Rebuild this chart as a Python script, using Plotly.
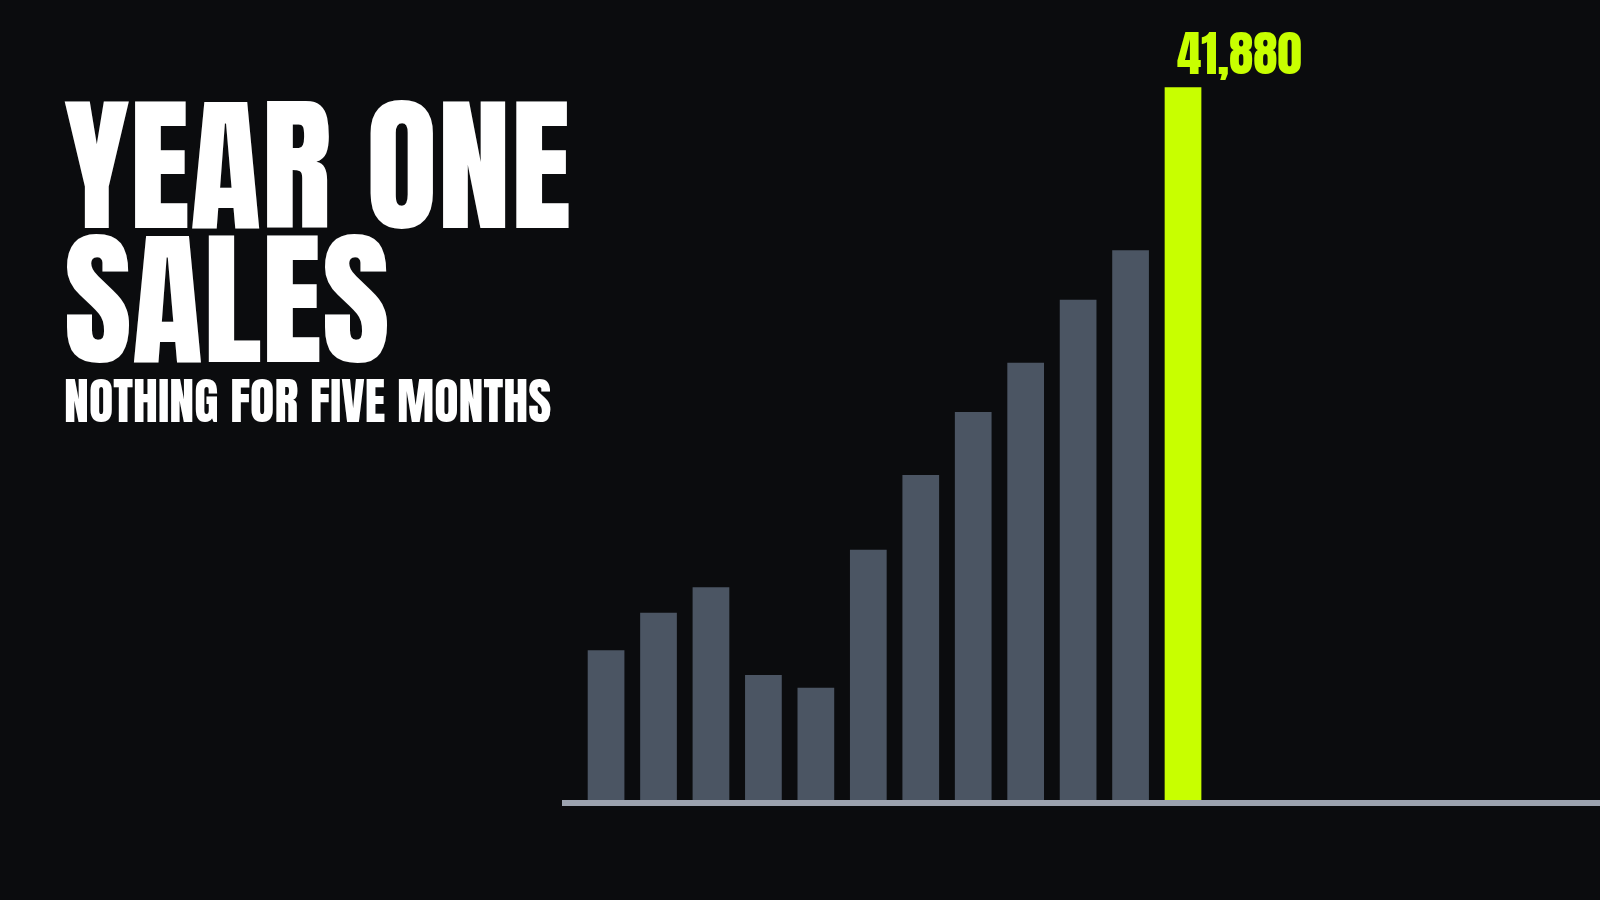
import plotly.graph_objects as go

# ---------------- data ----------------
months = ["Jan", "Feb", "Mar", "Apr", "May", "Jun",
          "Jul", "Aug", "Sep", "Oct", "Nov", "Dec"]
sales = [8800, 11000, 12500, 7350, 6600, 14700,
         19100, 22800, 25700, 29400, 32300, 41880]
title_lines = ["YEAR ONE", "SALES"]
subtitle = "NOTHING FOR FIVE MONTHS"

# ---------------- style ----------------
BG = "#0b0c0e"
BAR = "#4b5563"
HIGHLIGHT = "#c8ff00"
AXIS = "#9ca3af"
FONT = "Anton, Liberation Sans Narrow, sans-serif"

W, H = 1600, 900
PX0, PW, PH = 562, W - 562, 800


def xp(px):
    return (px - PX0) / PW


def yp(py):
    return (PH - py) / PH


colors = [BAR] * (len(sales) - 1) + [HIGHLIGHT]
label = f"{sales[-1]:,}"

fig = go.Figure(
    go.Bar(
        x=months,
        y=sales,
        width=0.7,
        marker=dict(color=colors, line=dict(width=0)),
        hoverinfo="skip",
    )
)

annotations = [
    dict(text=title_lines[0], x=xp(62), y=yp(53), xref="paper", yref="paper",
         xanchor="left", yanchor="top", showarrow=False,
         font=dict(family=FONT, size=147, color="white")),
    dict(text=title_lines[1], x=xp(62), y=yp(187), xref="paper", yref="paper",
         xanchor="left", yanchor="top", showarrow=False,
         font=dict(family=FONT, size=147, color="white")),
    dict(text=subtitle, x=xp(62), y=yp(361), xref="paper", yref="paper",
         xanchor="left", yanchor="top", showarrow=False,
         font=dict(family=FONT, size=50, color="white")),
    dict(text=label, x=months[-1], y=sales[-1], xref="x", yref="y",
         xanchor="left", yanchor="bottom", xshift=-8, yshift=-5, showarrow=False,
         font=dict(family=FONT, size=49, color=HIGHLIGHT)),
]

fig.update_layout(
    width=W,
    height=H,
    margin=dict(l=PX0, r=0, t=0, b=H - PH, pad=0),
    paper_bgcolor=BG,
    plot_bgcolor=BG,
    showlegend=False,
    annotations=annotations,
    xaxis=dict(
        range=[-0.84, 18.95],
        showgrid=False,
        zeroline=False,
        showticklabels=False,
        ticks="",
        showline=True,
        linecolor=AXIS,
        linewidth=6,
        fixedrange=True,
    ),
    yaxis=dict(
        range=[0, 47010],
        showgrid=False,
        zeroline=False,
        showticklabels=False,
        ticks="",
        showline=False,
        fixedrange=True,
    ),
)

post = """
document.body.style.margin = '0';
document.body.style.background = '%s';
""" % BG

fig.write_html("out.html", config={"displayModeBar": False, "staticPlot": True}, post_script=post)
